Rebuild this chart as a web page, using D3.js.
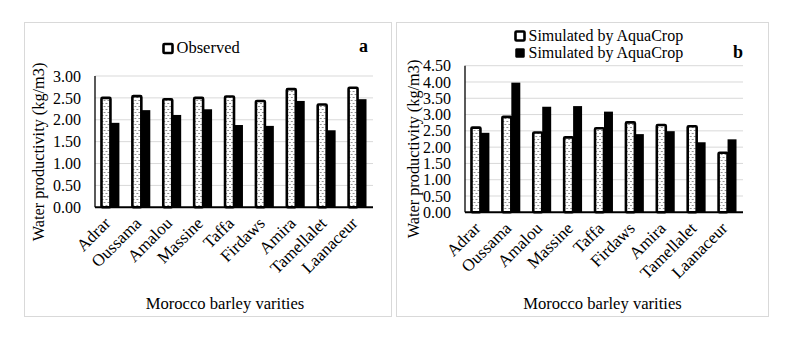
<!DOCTYPE html>
<html>
<head>
<meta charset="utf-8">
<script src="https://cdn.jsdelivr.net/npm/d3@7"></script>
<style>
  body { margin: 0; background: #fff; }
  svg text { font-family: "Liberation Serif", "Times New Roman", serif; fill: #000; }
</style>
</head>
<body>
<div id="chart"></div>
<script>
// barley varieties, same order in both panels
const varieties = ['Adrar', 'Oussama', 'Amalou', 'Massine', 'Taffa', 'Firdaws', 'Amira', 'Tamellalet', 'Laanaceur'];

// panel a
const observedA = [2.50, 2.54, 2.47, 2.50, 2.53, 2.43, 2.70, 2.35, 2.73];
const secondA   = [1.93, 2.22, 2.11, 2.24, 1.88, 1.86, 2.43, 1.76, 2.47];
const ticksA = [0, 0.5, 1, 1.5, 2, 2.5, 3];
const legendA = ['Observed'];

// panel b
const simulatedB1 = [2.60, 2.93, 2.45, 2.30, 2.58, 2.76, 2.68, 2.64, 1.83];
const simulatedB2 = [2.44, 3.98, 3.24, 3.26, 3.09, 2.40, 2.49, 2.15, 2.24];
const ticksB = [0, 0.5, 1, 1.5, 2, 2.5, 3, 3.5, 4, 4.5];
const legendB = ['Simulated by AquaCrop', 'Simulated by AquaCrop'];

const W = 785, H = 337;
const serif = '"Liberation Serif", "Times New Roman", serif';

const svg = d3.select('#chart').append('svg')
  .attr('width', W)
  .attr('height', H);

// dotted fill used for the first series
const defs = svg.append('defs');
const pat = defs.append('pattern')
  .attr('id', 'dots')
  .attr('patternUnits', 'userSpaceOnUse')
  .attr('width', 4).attr('height', 6);
pat.append('rect').attr('width', 4).attr('height', 6).attr('fill', '#fff');
pat.append('circle').attr('cx', 1).attr('cy', 1.5).attr('r', 0.55).attr('fill', '#000');
pat.append('circle').attr('cx', 3).attr('cy', 4.5).attr('r', 0.55).attr('fill', '#000');

function drawPanel(p) {
  const g = svg.append('g');

  // light frame round the panel
  g.append('rect')
    .attr('x', p.frame[0]).attr('y', p.frame[1])
    .attr('width', p.frame[2]).attr('height', p.frame[3])
    .attr('fill', 'none').attr('stroke', '#d9d9d9');

  const y = d3.scaleLinear().domain([0, d3.max(p.ticks)]).range([p.bottom, p.top]);
  const x0 = d3.scaleBand().domain(varieties).range([p.left, p.right])
    .paddingInner(0.42).paddingOuter(0.21);
  const x1 = d3.scaleBand().domain([0, 1]).range([0, x0.bandwidth()]);

  // gridlines
  g.append('g').selectAll('line')
    .data(p.ticks.filter(d => d > 0))
    .join('line')
    .attr('x1', p.left).attr('x2', p.right)
    .attr('y1', d => y(d)).attr('y2', d => y(d))
    .attr('stroke', '#d9d9d9');

  // y tick labels
  const yAxis = g.append('g')
    .attr('transform', `translate(${p.left},0)`)
    .call(d3.axisLeft(y).tickValues(p.ticks).tickFormat(d3.format('.2f')).tickSize(0).tickPadding(14));
  yAxis.select('.domain').remove();
  yAxis.attr('font-family', serif);
  yAxis.selectAll('text').attr('font-size', 16).attr('fill', '#000');

  // bars
  const groups = g.append('g').selectAll('g')
    .data(varieties.map((v, i) => ({ v, vals: [p.s1[i], p.s2[i]] })))
    .join('g')
    .attr('transform', d => `translate(${x0(d.v)},0)`);

  groups.append('rect')
    .attr('x', x1(1)).attr('width', x1.bandwidth())
    .attr('y', d => y(d.vals[1])).attr('height', d => y(0) - y(d.vals[1]))
    .attr('fill', '#000');

  groups.append('rect')
    .attr('x', x1(0)).attr('width', x1.bandwidth())
    .attr('y', d => y(d.vals[0])).attr('height', d => y(0) - y(d.vals[0]))
    .attr('fill', 'url(#dots)')
    .attr('stroke', '#000').attr('stroke-width', 2.6)
    .attr('stroke-linejoin', 'round')
    .attr('rx', 1);

  // axis lines
  g.append('line')
    .attr('x1', p.left).attr('x2', p.left)
    .attr('y1', p.top).attr('y2', p.bottom)
    .attr('stroke', '#000').attr('stroke-width', 1.3);
  g.append('line')
    .attr('x1', p.left).attr('x2', p.right)
    .attr('y1', p.bottom).attr('y2', p.bottom)
    .attr('stroke', '#000').attr('stroke-width', 2);

  // category labels, slanted
  const xAxis = g.append('g')
    .attr('transform', `translate(0,${p.bottom})`)
    .call(d3.axisBottom(x0).tickSize(0));
  xAxis.select('.domain').remove();
  xAxis.attr('font-family', serif);
  xAxis.selectAll('text')
    .attr('font-size', 17).attr('fill', '#000')
    .attr('text-anchor', 'end')
    .attr('x', 0).attr('y', 0).attr('dy', null)
    .attr('transform', 'translate(1,17) rotate(-45)');

  // axis titles
  g.append('text')
    .attr('transform', `translate(${p.yTitleX},${p.yTitleY}) rotate(-90)`)
    .attr('text-anchor', 'middle')
    .attr('dominant-baseline', 'central')
    .attr('font-size', 16.3)
    .text('Water productivity (kg/m3)');

  g.append('text')
    .attr('x', p.xTitleX).attr('y', 309)
    .attr('text-anchor', 'middle')
    .attr('font-size', 16.6)
    .text('Morocco barley varities');

  // legend
  const leg = g.append('g').selectAll('g')
    .data(p.legend)
    .join('g')
    .attr('transform', (d, i) => `translate(${p.legendX},${p.legendY + i * p.legendStep})`);
  leg.append('rect')
    .attr('x', 0).attr('y', -9).attr('width', 9).attr('height', 9)
    .attr('rx', 1)
    .attr('fill', (d, i) => i === 0 ? '#fff' : '#000')
    .attr('stroke', '#000').attr('stroke-width', (d, i) => i === 0 ? 2.6 : 0.5);
  leg.append('text')
    .attr('x', 13).attr('y', 0)
    .attr('font-size', p.legendFont)
    .text(d => d);

  // panel letter
  g.append('text')
    .attr('x', p.letterX).attr('y', p.letterY)
    .attr('font-size', 18).attr('font-weight', 'bold')
    .text(p.letter);
}

drawPanel({
  frame: [24.5, 22.5, 367, 294],
  left: 95, right: 373, top: 76, bottom: 207.3,
  ticks: ticksA, s1: observedA, s2: secondA,
  yTitleX: 38, yTitleY: 152, xTitleX: 225,
  legend: legendA, legendX: 163.5, legendY: 53, legendStep: 18, legendFont: 16.5,
  letter: 'a', letterX: 359, letterY: 52
});

drawPanel({
  frame: [396.5, 22.5, 372, 294],
  left: 465, right: 743, top: 65.7, bottom: 212.3,
  ticks: ticksB, s1: simulatedB1, s2: simulatedB2,
  yTitleX: 413, yTitleY: 149, xTitleX: 602.5,
  legend: legendB, legendX: 515.5, legendY: 40.5, legendStep: 17, legendFont: 16,
  letter: 'b', letterX: 733, letterY: 58
});
</script>
</body>
</html>
